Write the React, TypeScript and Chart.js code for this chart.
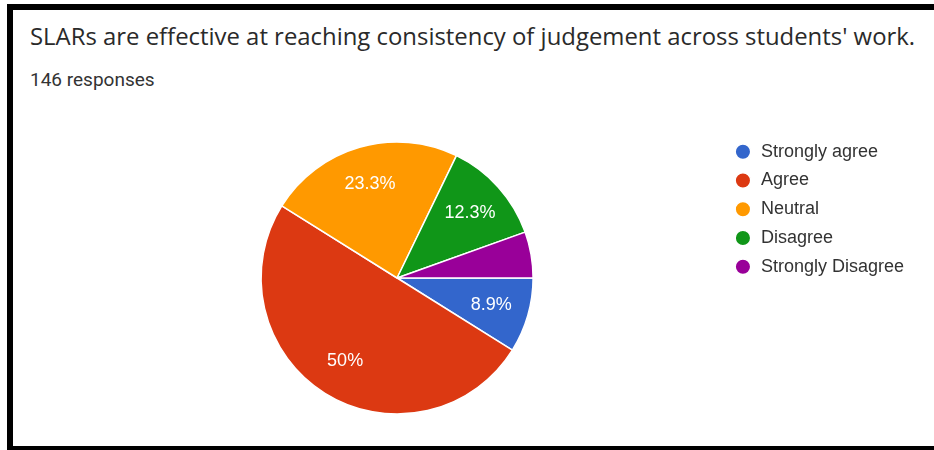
import React, { useEffect, useRef } from "react";
import { Chart, registerables } from "chart.js";

Chart.register(...registerables);

const titleText = "SLARs are effective at reaching consistency of judgement across students' work.";
const subtitleText = "146 responses";
const categories = ["Strongly agree", "Agree", "Neutral", "Disagree", "Strongly Disagree"];
const responseCounts = [13, 73, 34, 18, 8];
const sliceColors = ["#3366cc", "#dc3912", "#ff9900", "#109618", "#990099"];

const pctLabelPlugin = {
  id: "pctLabels",
  afterDatasetsDraw(chart: any) {
    const ctx = chart.ctx;
    const meta = chart.getDatasetMeta(0);
    const data = chart.data.datasets[0].data as number[];
    const total = data.reduce((a, b) => a + b, 0);
    ctx.save();
    ctx.fillStyle = "#ffffff";
    ctx.font = "18px 'Liberation Sans', Arial, sans-serif";
    ctx.textAlign = "center";
    ctx.textBaseline = "middle";
    meta.data.forEach((arc: any, i: number) => {
      const pct = (data[i] / total) * 100;
      if (pct < 6) return;
      const { x, y, startAngle, endAngle, outerRadius } = arc.getProps(
        ["x", "y", "startAngle", "endAngle", "outerRadius"],
        true
      );
      const mid = (startAngle + endAngle) / 2;
      const r = outerRadius * 0.72;
      let txt = pct.toFixed(1);
      if (txt.endsWith(".0")) txt = txt.slice(0, -2);
      ctx.fillText(txt + "%", x + Math.cos(mid) * r, y + Math.sin(mid) * r);
    });
    ctx.restore();
  },
};

export default function App() {
  const canvasRef = useRef<HTMLCanvasElement | null>(null);

  useEffect(() => {
    const prevMargin = document.body.style.margin;
    document.body.style.margin = "0";
    const chart = new Chart(canvasRef.current as HTMLCanvasElement, {
      type: "pie",
      data: {
        labels: categories,
        datasets: [
          {
            data: responseCounts,
            backgroundColor: sliceColors,
            borderColor: "#ffffff",
            borderWidth: 1.5,
            radius: 136,
          },
        ],
      },
      options: {
        animation: false,
        responsive: true,
        maintainAspectRatio: false,
        rotation: 90,
        layout: { padding: { left: 58, right: 20, top: 32, bottom: 22 } },
        plugins: {
          title: { display: false },
          tooltip: { enabled: false },
          legend: {
            position: "right",
            align: "start",
            labels: {
              usePointStyle: true,
              pointStyle: "circle",
              boxWidth: 18,
              boxHeight: 11,
              padding: 10.75,
              color: "#333333",
              font: { family: "'Liberation Sans', Arial, sans-serif", size: 18 },
            },
          },
        },
      },
      plugins: [pctLabelPlugin],
    });
    return () => {
      chart.destroy();
      document.body.style.margin = prevMargin;
    };
  }, []);

  return (
    <div
      style={{
        position: "fixed",
        left: 0,
        top: 0,
        width: 934,
        height: 450,
        background: "#ffffff",
        overflow: "hidden",
      }}
    >
      <div style={{ position: "absolute", left: 7, top: 4, width: 927, height: 6, background: "#000" }} />
      <div style={{ position: "absolute", left: 7, top: 4, width: 6, height: 446, background: "#000" }} />
      <div style={{ position: "absolute", left: 7, top: 446, width: 927, height: 4, background: "#000" }} />
      <div
        style={{
          position: "absolute",
          left: 30,
          top: 23.8,
          fontFamily: "'Open Sans', sans-serif",
          fontSize: 23.9,
          lineHeight: "23.9px",
          color: "#2a2a2a",
          whiteSpace: "nowrap",
        }}
      >
        {titleText}
      </div>
      <div
        style={{
          position: "absolute",
          left: 30,
          top: 70,
          fontFamily: "Roboto, sans-serif",
          fontSize: 19,
          lineHeight: "19px",
          color: "#333333",
          whiteSpace: "nowrap",
        }}
      >
        {subtitleText}
      </div>
      <div style={{ position: "absolute", left: 13, top: 100, width: 921, height: 346 }}>
        <canvas ref={canvasRef} />
      </div>
    </div>
  );
}
